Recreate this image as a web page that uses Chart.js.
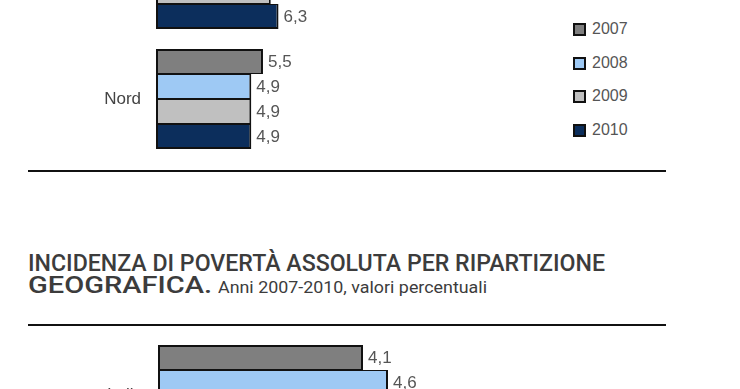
<!DOCTYPE html>
<html lang="it">
<head>
<meta charset="utf-8">
<script src="https://cdn.jsdelivr.net/npm/chart.js@4.4.1/dist/chart.umd.min.js"></script>
<style>
  html, body { margin: 0; padding: 0; }
  body {
    width: 740px; height: 389px; overflow: hidden; position: relative; background: #fff;
    font-family: Roboto, "Liberation Sans", sans-serif;
    color: #3c3c3c;
  }
  canvas { position: absolute; left: 0; }
  #relChart { top: -81px; }
  #absChart { top: 335px; }
  .rule { position: absolute; left: 28px; width: 638px; height: 2px; background: #111; }
  .title { position: absolute; white-space: nowrap; transform-origin: 0 0; }
  .bold { font-weight: 500; font-size: 24px; line-height: 24px; }
  .sub { font-weight: 400; font-size: 17px; line-height: 17px; }
  #legend { position: absolute; left: 573px; top: 23px; }
  .item { position: relative; height: 33.7px; }
  .swatch { position: absolute; left: 0; top: 0; width: 9px; height: 9px; border: 2px solid #111; }
  .item span {
    position: absolute; left: 19px; top: -3px; font-family: "Liberation Sans", sans-serif;
    font-size: 16px; line-height: 18px; color: #555;
  }
</style>
</head>
<body>
<canvas id="relChart" width="545" height="240"></canvas>
<div class="rule" style="top:170px"></div>
<div id="legend"></div>

<div class="title bold" id="t1" style="left:28px; top:251px">INCIDENZA DI POVERTÀ ASSOLUTA PER RIPARTIZIONE</div>
<div class="title bold" id="t2" style="left:28px; top:273px">GEOGRAFICA.</div>
<div class="title sub" id="t3" style="left:218px; top:279px">Anni 2007-2010, valori percentuali</div>
<div class="rule" style="top:324px"></div>

<canvas id="absChart" width="558" height="120"></canvas>

<script>
// series
const years = ["2007", "2008", "2009", "2010"];
const colors = ["#7f7f7f", "#9ec9f4", "#c0c0c0", "#0c2e5c"];

// povertà relativa (grafico sopra, solo la parte visibile)
const relAreas = ["Centro", "Nord"];
const rel2007 = [6.4, 5.5];
const rel2008 = [6.7, 4.9];
const rel2009 = [5.9, 4.9];
const rel2010 = [6.3, 4.9];

// povertà assoluta
const absAreas = ["Italia"];
const abs2007 = [4.1];
const abs2008 = [4.6];
const abs2009 = [4.7];
const abs2010 = [4.6];

const textFont = "17px 'Liberation Sans', sans-serif";

// numbers at the end of each bar, with the comma, and the area names on the left
const barText = {
  id: "barText",
  afterDatasetsDraw(chart) {
    const ctx = chart.ctx;
    const yScale = chart.scales.y;
    ctx.save();
    ctx.font = textFont;
    ctx.textBaseline = "middle";
    ctx.fillStyle = "#555";
    chart.data.datasets.forEach((ds, i) => {
      chart.getDatasetMeta(i).data.forEach((bar, j) => {
        ctx.fillText(String(ds.data[j]).replace(".", ","), bar.x + 5, bar.y + 1);
      });
    });
    ctx.fillStyle = "#444";
    ctx.textAlign = "right";
    chart.data.labels.forEach((lab, i) => {
      ctx.fillText(lab, chart.chartArea.left - 15, yScale.getPixelForTick(i));
    });
    ctx.restore();
  }
};

function makeChart(id, labels, series, xMax, axisWidth) {
  return new Chart(document.getElementById(id), {
    type: "bar",
    data: {
      labels: labels,
      datasets: series.map((data, i) => ({
        label: years[i],
        data: data,
        backgroundColor: colors[i],
        borderColor: "#111",
        borderWidth: { left: 2, right: 2, top: i === 0 ? 2 : 1, bottom: i === series.length - 1 ? 2 : 1 },
        borderSkipped: false,
        categoryPercentage: 100 / 120,
        barPercentage: 1
      }))
    },
    options: {
      indexAxis: "y",
      responsive: false,
      animation: false,
      devicePixelRatio: 1,
      layout: { padding: 0 },
      plugins: { legend: { display: false }, tooltip: { enabled: false } },
      scales: {
        x: { display: false, min: 0, max: xMax },
        y: {
          grid: { display: false, drawTicks: false },
          border: { display: false },
          ticks: { display: false },
          afterFit: s => { s.width = axisWidth; }
        }
      }
    },
    plugins: [barText]
  });
}

makeChart("relChart", relAreas, [rel2007, rel2008, rel2009, rel2010], 20, 156);
makeChart("absChart", absAreas, [abs2007, abs2008, abs2009, abs2010], 8, 158);

// legend
const legend = document.getElementById("legend");
years.forEach((y, i) => {
  const item = document.createElement("div");
  item.className = "item";
  item.innerHTML = `<div class="swatch" style="background:${colors[i]}"></div><span>${y}</span>`;
  legend.appendChild(item);
});

// stretch title pieces to the widths in the original
function fitWidth(id, w) {
  const el = document.getElementById(id);
  const r = el.getBoundingClientRect().width;
  el.style.transform = `scaleX(${w / r})`;
}
fitWidth("t1", 577);
fitWidth("t2", 184);
fitWidth("t3", 269);
</script>
</body>
</html>
